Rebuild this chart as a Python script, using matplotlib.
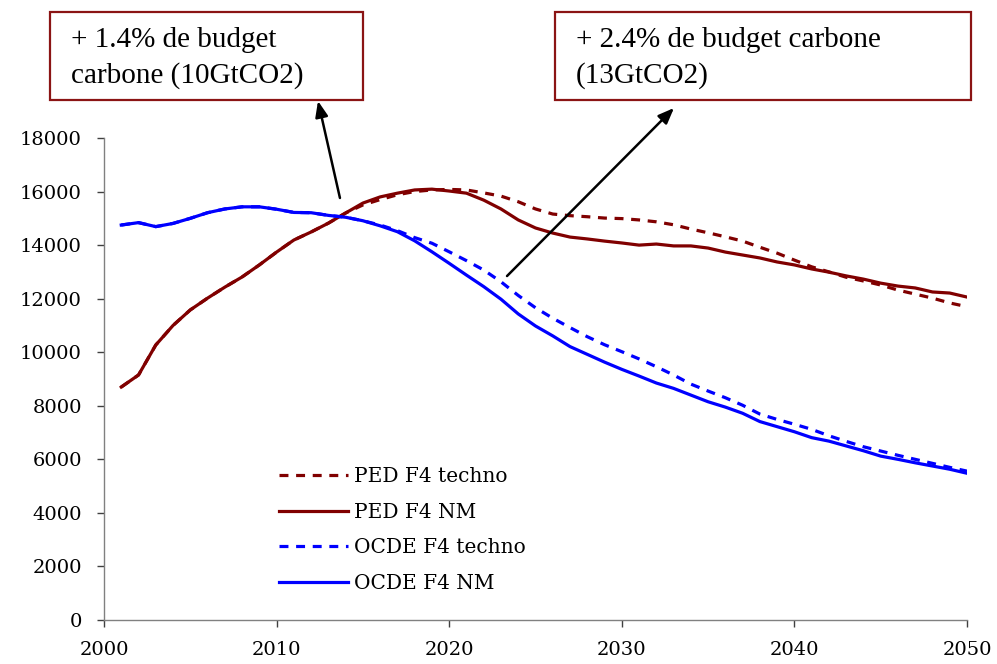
import matplotlib
matplotlib.use("Agg")
import matplotlib.pyplot as plt
from matplotlib.patches import Rectangle

years = list(range(2001, 2051))

ped_nm = [8700, 9150, 10270, 11000, 11580, 12020, 12430, 12810, 13260, 13740,
          14190, 14490, 14820, 15200, 15570, 15800, 15940, 16060, 16090, 16020,
          15940, 15680, 15350, 14940, 14640, 14450, 14300, 14230, 14150, 14080,
          14000, 14040, 13970, 13970, 13890, 13740, 13630, 13520, 13370, 13260,
          13110, 12990, 12850, 12730, 12580, 12470, 12400, 12250, 12210, 12060]

ped_techno = [8700, 9150, 10270, 11000, 11580, 12020, 12430, 12810, 13260, 13740,
              14190, 14490, 14820, 15200, 15500, 15700, 15880, 16000, 16060, 16080,
              16060, 15950, 15830, 15620, 15350, 15160, 15100, 15060, 15010, 14990,
              14940, 14870, 14760, 14600, 14460, 14310, 14150, 13920, 13700, 13440,
              13190, 13000, 12800, 12660, 12510, 12320, 12170, 12020, 11840, 11700]

ocde_nm = [14750, 14840, 14690, 14810, 15000, 15210, 15350, 15430, 15430, 15340,
           15220, 15210, 15110, 15040, 14910, 14720, 14500, 14160, 13750, 13320,
           12880, 12450, 11980, 11430, 10980, 10610, 10210, 9920, 9630, 9360,
           9110, 8850, 8650, 8400, 8150, 7950, 7720, 7410, 7220, 7030,
           6810, 6680, 6500, 6320, 6120, 6000, 5870, 5750, 5630, 5480]

ocde_techno = [14750, 14840, 14690, 14810, 15000, 15210, 15350, 15430, 15430, 15340,
               15220, 15210, 15110, 15040, 14910, 14750, 14540, 14280, 14070, 13750,
               13420, 13070, 12630, 12120, 11660, 11270, 10920, 10580, 10280, 10020,
               9750, 9460, 9150, 8810, 8550, 8300, 8020, 7690, 7490, 7310,
               7120, 6880, 6670, 6470, 6310, 6150, 6000, 5850, 5700, 5560]

series_labels = ["PED F4 techno", "PED F4 NM", "OCDE F4 techno", "OCDE F4 NM"]
note_left = "+ 1.4% de budget\ncarbone (10GtCO2)"
note_right = "+ 2.4% de budget carbone\n(13GtCO2)"

x_ticks = [2000, 2010, 2020, 2030, 2040, 2050]
y_ticks = list(range(0, 18001, 2000))

RED = "#800000"
BLUE = "#0000FF"
W, H = 997, 664

fig = plt.figure(figsize=(W / 100, H / 100), dpi=100)
ax = fig.add_axes([104 / W, (H - 620) / H, (967 - 104) / W, (620 - 138) / H])

lw = 2.3
dash = (0, (2.8, 2.4))
ax.plot(years, ped_techno, color=RED, lw=lw, ls=dash, label=series_labels[0])
ax.plot(years, ped_nm, color=RED, lw=lw, label=series_labels[1])
ax.plot(years, ocde_techno, color=BLUE, lw=lw, ls=dash, label=series_labels[2])
ax.plot(years, ocde_nm, color=BLUE, lw=lw, label=series_labels[3])

ax.set_xlim(2000, 2050)
ax.set_ylim(0, 18000)
ax.set_xticks(x_ticks)
ax.set_yticks(y_ticks)
tick_font = dict(family="DejaVu Serif", size=14)
ax.set_xticklabels([str(t) for t in x_ticks], **tick_font)
ax.set_yticklabels([str(t) for t in y_ticks], **tick_font)

for side in ("top", "right"):
    ax.spines[side].set_visible(False)
for side in ("left", "bottom"):
    ax.spines[side].set_color("#808080")
    ax.spines[side].set_linewidth(1.0)
ax.tick_params(axis="both", direction="out", length=5, width=1.0, color="#404040")
ax.tick_params(axis="y", pad=11)
ax.tick_params(axis="x", pad=10)

leg = ax.legend(loc="upper left", bbox_to_anchor=(167 / (967 - 104), (620 - 459) / (620 - 138)),
                frameon=False, handlelength=3.4, handletextpad=0.3, labelspacing=0.83,
                prop=dict(family="DejaVu Serif", size=14.5), borderaxespad=0)

# annotation boxes
box_kw = dict(transform=fig.transFigure, fill=True, facecolor="white",
              edgecolor="#8B1414", linewidth=1.6, zorder=5)
fig.patches.append(Rectangle((50 / W, 1 - 100 / H), 313 / W, 88 / H, **box_kw))
fig.patches.append(Rectangle((555 / W, 1 - 100 / H), 416 / W, 88 / H, **box_kw))

txt_font = dict(family="Liberation Serif", size=21, color="black",
                linespacing=1.4, va="center", ha="left", zorder=6)
fig.text(71 / W, 1 - 58 / H, note_left, **txt_font)
fig.text(576 / W, 1 - 58 / H, note_right, **txt_font)

arrow_kw = dict(arrowstyle="-|>,head_length=0.95,head_width=0.38", color="black", lw=1.8,
                shrinkA=0, shrinkB=0)
ax.annotate("", xy=(318 / W, 1 - 101 / H), xycoords="figure fraction",
            xytext=(2013.67, 15760), textcoords="data", arrowprops=arrow_kw,
            annotation_clip=False)
ax.annotate("", xy=(674 / W, 1 - 108 / H), xycoords="figure fraction",
            xytext=(2023.35, 12845), textcoords="data", arrowprops=arrow_kw,
            annotation_clip=False)

fig.savefig("out.png", dpi=100)
